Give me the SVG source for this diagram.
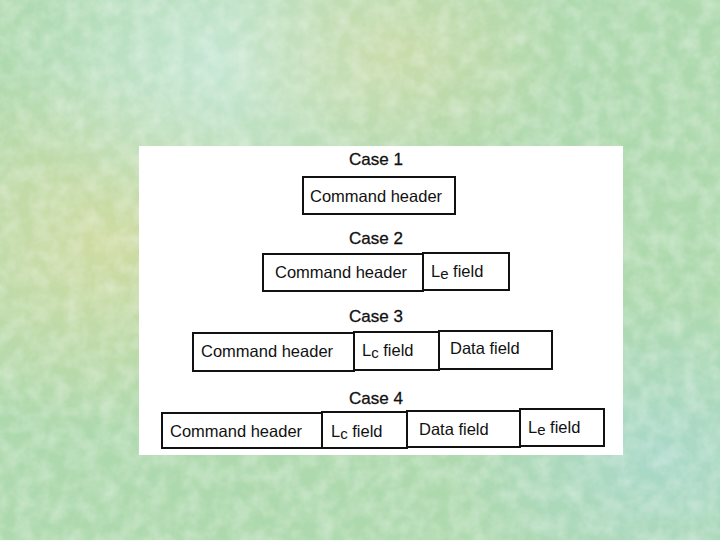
<svg xmlns="http://www.w3.org/2000/svg" width="720" height="540" viewBox="0 0 720 540">
<defs>
<radialGradient id="g1" cx="0.15" cy="0.45" r="0.35"><stop offset="0" stop-color="#d8dca0" stop-opacity="0.8"/><stop offset="1" stop-color="#d8dca0" stop-opacity="0"/></radialGradient>
<radialGradient id="g2" cx="0.3" cy="0.12" r="0.3"><stop offset="0" stop-color="#c8e8d8" stop-opacity="0.9"/><stop offset="1" stop-color="#c8e8d8" stop-opacity="0"/></radialGradient>
<radialGradient id="g3" cx="0.92" cy="0.85" r="0.3"><stop offset="0" stop-color="#a8d8d0" stop-opacity="0.8"/><stop offset="1" stop-color="#a8d8d0" stop-opacity="0"/></radialGradient>
<radialGradient id="g4" cx="0.55" cy="0.1" r="0.25"><stop offset="0" stop-color="#d4dca8" stop-opacity="0.7"/><stop offset="1" stop-color="#d4dca8" stop-opacity="0"/></radialGradient>
<filter id="tex" x="0" y="0" width="100%" height="100%">
<feTurbulence type="fractalNoise" baseFrequency="0.06" numOctaves="3" seed="4" result="n"/>
<feColorMatrix in="n" type="matrix" values="0 0 0 0 1  0 0 0 0 1  0 0 0 0 1  0 0 0 -1.6 1.1" result="a"/>
<feComposite in="a" in2="SourceGraphic" operator="in"/>
</filter>
<style>
.f{fill:#fff;stroke:#111;stroke-width:2}
.t{font-family:"Liberation Sans",Arial,sans-serif;font-size:16.5px;fill:#111}
.c{font-family:"Liberation Sans",Arial,sans-serif;font-size:17px;fill:#111;text-anchor:middle;stroke:#111;stroke-width:0.3}
.s{font-size:15px}
</style>
</defs>
<g id="background">
<rect width="720" height="540" fill="#aed9ae"/>
<rect width="720" height="540" fill="url(#g1)"/>
<rect width="720" height="540" fill="url(#g2)"/>
<rect width="720" height="540" fill="url(#g3)"/>
<rect width="720" height="540" fill="url(#g4)"/>
<rect width="720" height="540" fill="#ffffff" opacity="0.35" filter="url(#tex)"/>
</g>
<rect id="panel" x="139" y="146" width="484" height="309" fill="#fff"/>
<g id="connectors"/>
<g id="case1">
<text class="c" x="376" y="165">Case 1</text>
<g id="c1-cmd"><rect class="f" x="303" y="177" width="152" height="37"/><text class="t" x="310" y="202">Command header</text></g>
</g>
<g id="case2">
<text class="c" x="376" y="244">Case 2</text>
<g id="c2-cmd"><rect class="f" x="263" y="254" width="160" height="37"/><text class="t" x="275" y="278">Command header</text></g>
<g id="c2-le"><rect class="f" x="423" y="253" width="86" height="37"/><text class="t" x="431" y="277">L<tspan class="s" dy="2">e</tspan><tspan dy="-2"> field</tspan></text></g>
</g>
<g id="case3">
<text class="c" x="376" y="322">Case 3</text>
<g id="c3-cmd"><rect class="f" x="193" y="333" width="161" height="38"/><text class="t" x="201" y="357">Command header</text></g>
<g id="c3-lc"><rect class="f" x="354" y="332" width="85" height="38"/><text class="t" x="362" y="356">L<tspan class="s" dy="2">c</tspan><tspan dy="-2"> field</tspan></text></g>
<g id="c3-data"><rect class="f" x="439" y="331" width="113" height="38"/><text class="t" x="450" y="354">Data field</text></g>
</g>
<g id="case4">
<text class="c" x="376" y="404">Case 4</text>
<g id="c4-cmd"><rect class="f" x="162" y="413" width="160" height="35"/><text class="t" x="170" y="437">Command header</text></g>
<g id="c4-lc"><rect class="f" x="322" y="412" width="85" height="36"/><text class="t" x="331" y="437">L<tspan class="s" dy="2">c</tspan><tspan dy="-2"> field</tspan></text></g>
<g id="c4-data"><rect class="f" x="407" y="411" width="113" height="36"/><text class="t" x="419" y="435">Data field</text></g>
<g id="c4-le"><rect class="f" x="520" y="409" width="84" height="37"/><text class="t" x="528" y="433">L<tspan class="s" dy="2">e</tspan><tspan dy="-2"> field</tspan></text></g>
</g>
</svg>
